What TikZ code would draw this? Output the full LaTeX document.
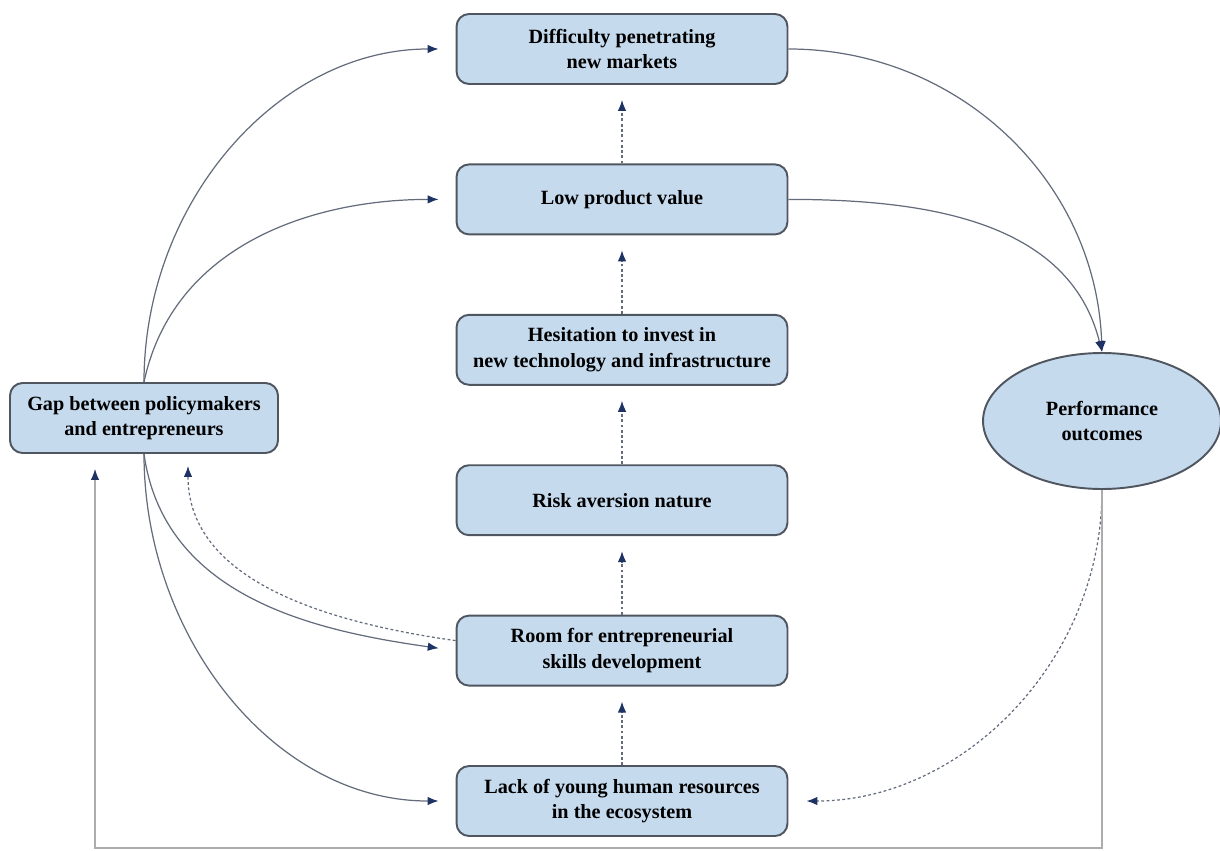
\documentclass[tikz,border=0pt]{standalone}
\usepackage{fontspec}
\setmainfont{Liberation Serif}
\usetikzlibrary{positioning,shapes.geometric,arrows.meta}

\definecolor{boxfill}{RGB}{198,218,238}
\definecolor{boxline}{RGB}{80,86,96}
\definecolor{linkline}{RGB}{100,108,124}
\definecolor{tipnavy}{RGB}{30,50,100}

\begin{document}
\begin{tikzpicture}[
x=0.02cm, y=-0.02cm,
node distance=1.57cm,
factor/.style={rectangle, rounded corners=2.5mm, draw=boxline, fill=boxfill, line width=1.1pt, minimum width=6.62cm, minimum height=1.4cm, align=center, font=\fontsize{11.5}{14.5}\selectfont\bfseries},
outcome/.style={ellipse, draw=boxline, fill=boxfill, line width=1.1pt, minimum width=4.76cm, minimum height=2.72cm, align=center, font=\fontsize{11.5}{14.5}\selectfont\bfseries},
link/.style={draw=linkline, line width=0.7pt, -{Latex[length=2.2mm,width=1.7mm,color=tipnavy]}},
weak/.style={link, dash pattern=on 1.6pt off 1.4pt}
]
\useasboundingbox (0,0) rectangle (1220,851);

\node[factor](diff_mkt) at (622,49) {Difficulty penetrating\\new markets};
\node[factor](low_val)[below=of diff_mkt]{Low product value};
\node[factor](hesit)[below=of low_val]{Hesitation to invest in\\new technology and infrastructure};
\node[factor](risk)[below=of hesit]{Risk aversion nature};
\node[factor](room)[below=of risk]{Room for entrepreneurial\\skills development};
\node[factor](lack_hr)[below=of room]{Lack of young human resources\\in the ecosystem};

\node[factor, minimum width=5.36cm](gap) at (144,418) {Gap between policymakers\\and entrepreneurs};
\node[outcome](perf) at (1102,421) {Performance\\outcomes};

\coordinate (loop) at (600,848);

% dashed chain up the middle
\draw[weak, shorten >=0.3cm] (lack_hr.north) -- (room.south);
\draw[weak, shorten >=0.3cm] (room.north) -- (risk.south);
\draw[weak, shorten >=0.3cm] (risk.north) -- (hesit.south);
\draw[weak, shorten >=0.3cm] (hesit.north) -- (low_val.south);
\draw[weak, shorten >=0.3cm] (low_val.north) -- (diff_mkt.south);

% from the gap
\draw[link, shorten >=0.34cm] (gap.north) to[out=90, in=180] (diff_mkt.west);
\draw[link, shorten >=0.34cm] (gap.north) to[out=78, in=180] (low_val.west);
\draw[link, shorten >=0.34cm] (gap.south) to[out=-82, in=172] (room.west);
\draw[link, shorten >=0.34cm] (gap.south) to[out=-90, in=180] (lack_hr.west);
\draw[weak, shorten >=0.24cm] ([yshift=0.2cm]room.west) to[out=172, in=-90] ([xshift=0.88cm]gap.south);

% to and from the outcomes
\draw[link] (diff_mkt.east) to[out=0, in=92] (perf.north);
\draw[link] (low_val.east) to[out=0, in=104] (perf.north);
\draw[weak, shorten >=0.36cm] (perf.south) to[out=-90, in=0] (lack_hr.east);
\draw[link, draw=gray!65, line width=0.6pt, shorten >=0.3cm] (perf.south) |- (loop) -| ([xshift=-0.98cm]gap.south);
\end{tikzpicture}
\end{document}
